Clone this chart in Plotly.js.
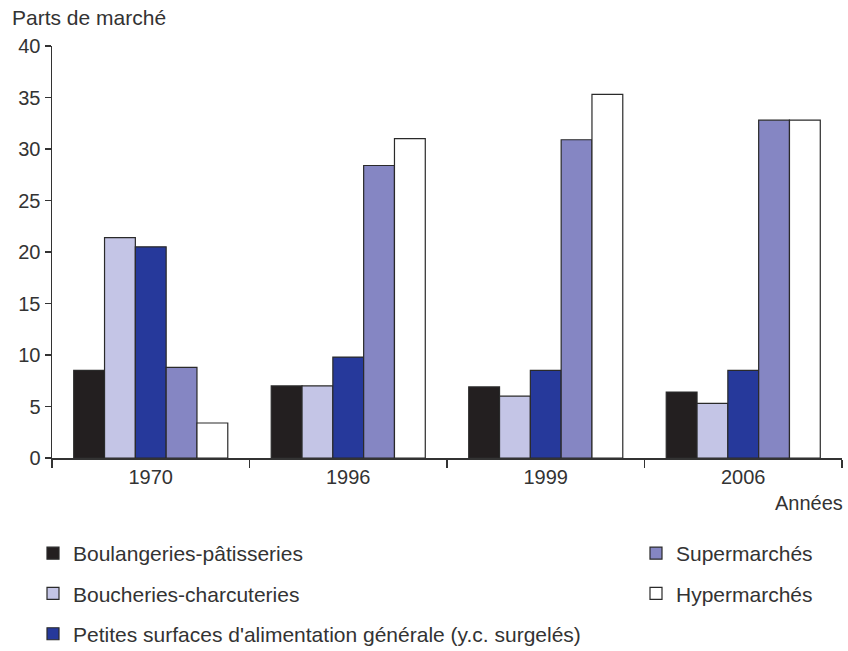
<!DOCTYPE html>
<html>
<head>
<meta charset="utf-8">
<script src="https://cdn.plot.ly/plotly-3.0.1.min.js"></script>
<style>html,body{margin:0;padding:0;background:#fff;}#chart{width:848px;height:651px;}</style>
</head>
<body>
<div id="chart"></div>
<script>
const years = ["1970", "1996", "1999", "2006"];
const seriesNames = [
  "Boulangeries-pâtisseries",
  "Boucheries-charcuteries",
  "Petites surfaces d'alimentation générale (y.c. surgelés)",
  "Supermarchés",
  "Hypermarchés"
];
const boulangeries = [8.5, 7.0, 6.9, 6.4];
const boucheries = [21.4, 7.0, 6.0, 5.3];
const petitesSurfaces = [20.5, 9.8, 8.5, 8.5];
const supermarches = [8.8, 28.4, 30.9, 32.8];
const hypermarches = [3.4, 31.0, 35.3, 32.8];
const yTicks = [0, 5, 10, 15, 20, 25, 30, 35, 40];

const values = [boulangeries, boucheries, petitesSurfaces, supermarches, hypermarches];
const colors = ["#231f20", "#c4c5e6", "#26399b", "#8586c3", "#ffffff"];
const legendIds = ["legend", "legend", "legend", "legend2", "legend2"];

const traces = values.map((v, i) => ({
  type: "bar",
  x: years,
  y: v,
  name: seriesNames[i],
  legend: legendIds[i],
  legendgroup: "g" + i,
  marker: { color: colors[i], line: { color: "#2a2a2a", width: 1.2 } },
  hoverinfo: "skip"
}));

const font = "Liberation Sans, Arial, Helvetica, sans-serif";
const legendFont = { size: 21, color: "#333333", family: font };
const layout = {
  width: 848,
  height: 651,
  margin: { l: 52, r: 6, t: 46, b: 193, autoexpand: false },
  paper_bgcolor: "#ffffff",
  plot_bgcolor: "#ffffff",
  barmode: "group",
  bargap: 0.22,
  bargroupgap: 0,
  font: { family: font, color: "#333333", size: 20 },
  xaxis: {
    type: "category",
    showline: true,
    linecolor: "#333333",
    linewidth: 1.5,
    ticks: "outside",
    tickson: "boundaries",
    ticklen: 8,
    tickwidth: 1.5,
    tickcolor: "#333333",
    showgrid: false,
    zeroline: false,
    automargin: false,
    tickfont: { size: 20, color: "#333333" },
    fixedrange: true
  },
  yaxis: {
    range: [0, 40],
    tickvals: yTicks,
    showline: true,
    linecolor: "#333333",
    linewidth: 1.5,
    ticks: "outside",
    ticklen: 6,
    tickwidth: 1.5,
    tickcolor: "#333333",
    showgrid: false,
    zeroline: false,
    automargin: false,
    tickfont: { size: 20, color: "#333333" },
    fixedrange: true
  },
  title: {
    text: "Parts de marché",
    xref: "container",
    yref: "container",
    x: 12 / 848,
    xanchor: "left",
    y: 1 - 18 / 651,
    yanchor: "middle",
    automargin: false,
    font: { size: 21, color: "#333333", family: font }
  },
  annotations: [{
    text: "Années",
    xref: "paper",
    yref: "paper",
    x: 1.004,
    xanchor: "right",
    y: -0.109,
    yanchor: "middle",
    showarrow: false,
    font: { size: 20, color: "#333333" }
  }],
  shapes: [{
    type: "line",
    xref: "paper",
    yref: "paper",
    x0: -0.007,
    x1: 0,
    y0: 0,
    y1: 0,
    line: { color: "#333333", width: 1.5 }
  }],
  legend: {
    xref: "container",
    yref: "container",
    x: 33 / 848,
    xanchor: "left",
    y: 1 - 533 / 651,
    yanchor: "top",
    traceorder: "grouped",
    tracegroupgap: 10,
    bgcolor: "rgba(0,0,0,0)",
    font: legendFont
  },
  legend2: {
    xref: "container",
    yref: "container",
    x: 636 / 848,
    xanchor: "left",
    y: 1 - 533 / 651,
    yanchor: "top",
    traceorder: "grouped",
    tracegroupgap: 10,
    bgcolor: "rgba(0,0,0,0)",
    font: legendFont
  },
  showlegend: true
};

Plotly.newPlot("chart", traces, layout, { displayModeBar: false, staticPlot: true });
</script>
</body>
</html>
